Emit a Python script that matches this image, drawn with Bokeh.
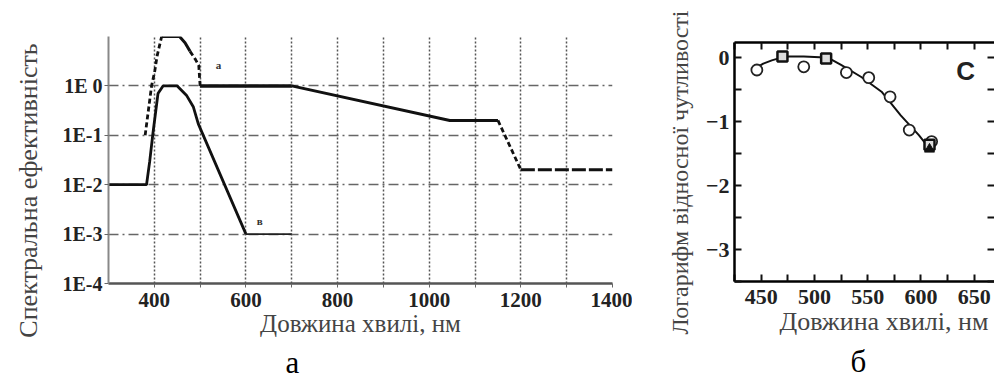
import math
from bokeh.plotting import figure
from bokeh.models import FixedTicker, Range1d, LinearAxis, Label, CustomJSTickFormatter, Title, Spacer
from bokeh.layouts import row, column
from bokeh.embed import file_html
from bokeh.resources import INLINE

# ---------- panel a: spectral efficiency (log scale) ----------
# upper curve (a), split into segments by line style
a_rise_x = [380, 394, 401, 406, 416]
a_rise_y = [0.1, 1.0, 2.0, 4.0, 10.0]
a_peak_x = [416, 455, 467, 478]
a_peak_y = [10.0, 10.0, 7.5, 5.0]
a_fall_x = [478, 490, 497, 500]
a_fall_y = [5.0, 3.4, 2.6, 1.0]
a_flat_x = [500, 700]
a_flat_y = [1.0, 1.0]
a_slope_x = [700, 1045, 1150]
a_slope_y = [1.0, 0.2, 0.2]
a_drop_x = [1150, 1200]
a_drop_y = [0.2, 0.02]
a_tail_x = [1200, 1400]
a_tail_y = [0.02, 0.02]

# lower curve (в)
b_x = [300, 383, 390, 397, 408, 419, 450, 470, 485, 496, 600]
b_y = [0.01, 0.01, 0.03, 0.11, 0.7, 1.0, 1.0, 0.65, 0.38, 0.17, 0.001]
b_tail_x = [600, 700]
b_tail_y = [0.001, 0.001]

a_xticks = [400, 600, 800, 1000, 1200, 1400]
a_xminor = [500, 700, 900, 1100, 1300]
a_xgrid = [400, 500, 600, 700, 800, 900, 1000, 1100, 1200, 1300, 1400]
a_yticks = [1e-4, 1e-3, 1e-2, 1e-1, 1.0]
a_ygrid = [1e-3, 1e-2, 1e-1, 1.0, 10.0]

# ---------- panel б: log relative sensitivity ----------
circ_x = [446, 490, 530, 551, 571, 589, 610]
circ_y = [-0.19, -0.14, -0.23, -0.31, -0.61, -1.13, -1.31]
sq_x = [470, 511, 608]
sq_y = [0.02, -0.01, -1.36]
tri_x = [608]
tri_y = [-1.43]
curve_x = [444, 452, 460, 468, 476, 490, 505, 513, 525, 544, 563, 581, 598, 609]
curve_y = [-0.17, -0.09, -0.04, 0.0, 0.02, 0.02, 0.01, 0.0, -0.11, -0.30, -0.53, -0.90, -1.21, -1.44]

b_xticks = [450, 500, 550, 600, 650]
b_xminor = [425, 475, 525, 575, 625]
b_yticks = [0, -1, -2, -3]
b_yminor = [-0.5, -1.5, -2.5, -3.5]

SERIF = "Liberation Serif"
NB = "\u00a0"
H = 380


def label_strip(width, text, cx, cy, size):
    """A narrow, axis-less figure that carries one rotated axis title."""
    f = figure(output_backend="svg", toolbar_location=None,
               frame_width=width, frame_height=H,
               x_range=Range1d(0, width), y_range=Range1d(0, H),
               min_border=0)
    f.outline_line_color = None
    f.axis.visible = False
    f.grid.visible = False
    f.add_layout(Label(x=cx, y=H - cy, text=text, angle=math.pi / 2,
                       text_font=SERIF, text_font_size=size, text_color="#444444",
                       text_align="center", text_baseline="middle"))
    return f


# ================= panel a =================
pL1 = label_strip(50, "Спектральна ефективність", 28, 190, "26px")

p1 = figure(output_backend="svg", toolbar_location=None,
            frame_width=504, frame_height=247,
            x_range=Range1d(300, 1400), y_range=Range1d(1e-4, 1e1),
            y_axis_type="log",
            min_border_left=58, min_border_right=20,
            min_border_top=36, min_border_bottom=0)
p1.outline_line_color = None
p1.background_fill_color = "white"
p1.border_fill_color = "white"

p1.xgrid.ticker = FixedTicker(ticks=a_xgrid)
p1.xgrid.grid_line_color = "#555555"
p1.xgrid.grid_line_width = 1.5
p1.xgrid.grid_line_dash = "2 2"
p1.ygrid.ticker = FixedTicker(ticks=a_ygrid)
p1.ygrid.grid_line_color = "#666666"
p1.ygrid.grid_line_width = 1.6
p1.ygrid.grid_line_dash = "10 4 2 4"

xa = p1.xaxis[0]
xa.ticker = FixedTicker(ticks=a_xticks, minor_ticks=a_xminor)
xa.axis_line_color = "#555555"
xa.axis_line_width = 2.5
xa.major_tick_out = 4
xa.major_tick_in = 0
xa.minor_tick_out = 4
xa.minor_tick_in = 0
xa.major_tick_line_color = "#666666"
xa.minor_tick_line_color = "#666666"
xa.major_label_text_font = SERIF
xa.major_label_text_font_style = "bold"
xa.major_label_text_font_size = "21px"
xa.major_label_text_color = "#222222"
xa.major_label_standoff = 5
xa.axis_label = "Довжина хвилі, нм"
xa.axis_label_text_font = SERIF
xa.axis_label_text_font_style = "normal"
xa.axis_label_text_font_size = "25px"
xa.axis_label_text_color = "#444444"
xa.axis_label_standoff = 0

ya = p1.yaxis[0]
ya.ticker = FixedTicker(ticks=a_yticks, minor_ticks=[])
ya.formatter = CustomJSTickFormatter(code="""
const e = Math.round(Math.log10(tick));
return e == 0 ? '1E 0' : '1E' + e;
""")
ya.axis_line_color = "#888888"
ya.axis_line_width = 2
ya.major_tick_out = 4
ya.major_tick_in = 0
ya.major_tick_line_color = "#666666"
ya.minor_tick_line_color = None
ya.major_label_text_font = SERIF
ya.major_label_text_font_style = "bold"
ya.major_label_text_font_size = "20px"
ya.major_label_text_color = "#222222"
ya.major_label_standoff = 2

p1.line(b_x, b_y, line_width=2.8, color="#111111")
p1.line(b_tail_x, b_tail_y, line_width=1.8, color="#222222")
p1.line(a_rise_x, a_rise_y, line_width=2.8, color="#111111", line_dash="5 3")
p1.line(a_peak_x, a_peak_y, line_width=3, color="#111111")
p1.line(a_fall_x, a_fall_y, line_width=2.8, color="#111111", line_dash="5 3")
p1.line(a_flat_x, a_flat_y, line_width=3.5, color="#111111")
p1.line(a_slope_x, a_slope_y, line_width=3, color="#111111")
p1.line(a_drop_x, a_drop_y, line_width=2.8, color="#111111", line_dash="5 3")
p1.line(a_tail_x, a_tail_y, line_width=3, color="#111111", line_dash="14 3")

p1.add_layout(Label(x=540, y=2.6, text="а", text_font=SERIF, text_font_style="bold",
                    text_font_size="11px", text_align="center", text_baseline="middle",
                    text_color="#333333"))
p1.add_layout(Label(x=630, y=0.0018, text="в", text_font=SERIF, text_font_style="bold",
                    text_font_size="11px", text_align="center", text_baseline="middle",
                    text_color="#333333"))
p1.add_layout(Title(text="а", align="left", offset=177, text_font=SERIF,
                    text_font_style="normal", text_font_size="31px",
                    text_color="black", standoff=6), "below")

# ================= panel б =================
pL2 = label_strip(70, "Логарифм відносної чутливості", 47, 172, "24px")

p2 = figure(output_backend="svg", toolbar_location=None,
            frame_width=260, frame_height=239,
            x_range=Range1d(425, 669), y_range=Range1d(-3.5, 0.24),
            min_border_left=30, min_border_right=0,
            min_border_top=36, min_border_bottom=0)
p2.outline_line_color = None
p2.background_fill_color = "white"
p2.border_fill_color = "white"
p2.xgrid.visible = False
p2.ygrid.visible = False


def style_axis(ax, ticks, minor, labels=True, line=True):
    ax.ticker = FixedTicker(ticks=ticks, minor_ticks=minor)
    ax.axis_line_color = "#000000" if line else None
    ax.axis_line_width = 2.5
    ax.major_tick_in = 7
    ax.major_tick_out = 0
    ax.minor_tick_in = 7
    ax.minor_tick_out = 0
    ax.major_tick_line_width = 2
    ax.minor_tick_line_width = 2
    ax.major_tick_line_color = "#111111"
    ax.minor_tick_line_color = "#111111"
    if labels:
        ax.major_label_text_font = SERIF
        ax.major_label_text_font_style = "bold"
        ax.major_label_text_font_size = "22px"
        ax.major_label_text_color = "#222222"
    else:
        ax.formatter = CustomJSTickFormatter(code="return '';")
        ax.major_label_standoff = 0


bx = p2.xaxis[0]
style_axis(bx, b_xticks, b_xminor)
bx.major_label_standoff = 8
bx.axis_label = NB * 6 + "Довжина хвилі, нм"
bx.axis_label_text_font = SERIF
bx.axis_label_text_font_style = "normal"
bx.axis_label_text_font_size = "26px"
bx.axis_label_text_color = "#444444"
bx.axis_label_standoff = 0

by = p2.yaxis[0]
style_axis(by, b_yticks, b_yminor)
by.major_label_standoff = 5

top_ax = LinearAxis()
style_axis(top_ax, b_xticks, b_xminor, labels=False)
p2.add_layout(top_ax, "above")
right_ax = LinearAxis()
style_axis(right_ax, b_yticks, b_yminor, labels=False, line=False)
p2.add_layout(right_ax, "right")

p2.line(curve_x, curve_y, line_width=2, color="#111111")
p2.scatter(circ_x, circ_y, marker="circle", size=11, fill_color="white",
           line_color="#222222", line_width=1.8)
p2.scatter(sq_x, sq_y, marker="square", size=10, fill_color="#dddddd",
           line_color="#111111", line_width=2.5)
p2.scatter(tri_x, tri_y, marker="triangle", size=10, fill_color="#111111",
           line_color="#111111")

p2.add_layout(Label(x=642, y=-0.2, text="C", text_font="Liberation Sans",
                    text_font_style="bold", text_font_size="26px",
                    text_align="center", text_baseline="middle", text_color="#222222"))
p2.add_layout(Title(text="б", align="left", offset=116, text_font=SERIF,
                    text_font_style="normal", text_font_size="31px",
                    text_color="black", standoff=6), "below")

layout = row(column(pL1), column(p1), column(pL2), column(Spacer(height=6), p2))
open("out.html", "w").write(file_html(layout, INLINE))
